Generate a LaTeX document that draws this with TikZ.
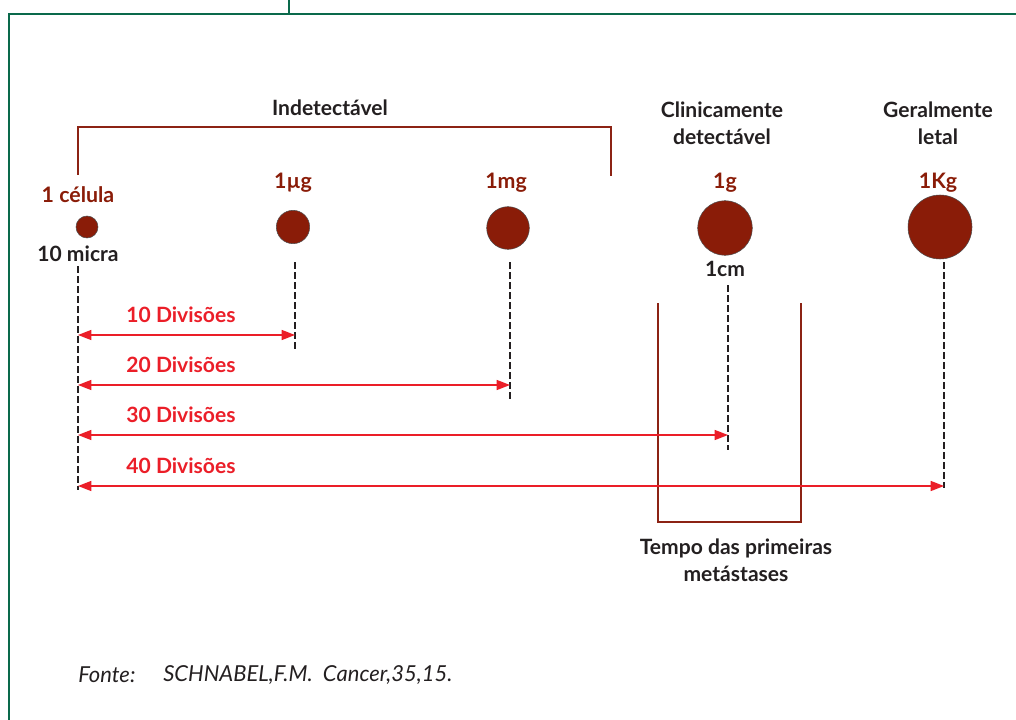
\documentclass[tikz,border=0pt]{standalone}
\usepackage{fontspec}
\setmainfont{Lato}
\usetikzlibrary{arrows.meta}
\definecolor{framegreen}{RGB}{10,105,75}
\definecolor{tumor}{RGB}{138,28,8}
\definecolor{brownline}{RGB}{140,35,20}
\definecolor{arrowred}{RGB}{235,30,40}
\definecolor{txt}{RGB}{35,31,32}
\tikzset{
  frame/.style={draw=framegreen,line width=1.5pt},
  cell/.style={circle,draw=txt!80,line width=0.4pt,fill=tumor,inner sep=0pt},
  masslabel/.style={font=\bfseries\fontsize{16}{20}\selectfont,text=tumor},
  head/.style={font=\bfseries\fontsize{15.8}{20}\selectfont,text=txt,align=center},
  sizelabel/.style={font=\bfseries\fontsize{15.8}{20}\selectfont,text=txt},
  divlabel/.style={font=\bfseries\fontsize{15.8}{20}\selectfont,text=arrowred},
  guide/.style={draw=txt,dashed,dash pattern=on 5pt off 2.5pt,line width=0.8pt},
  span/.style={draw=arrowred,line width=1.1pt,{Triangle[length=10pt,width=7.5pt]}-{Triangle[length=10pt,width=7.5pt]}},
  bracket/.style={draw=brownline,line width=1.2pt},
  src/.style={anchor=west,font=\itshape\fontsize{16.5}{20}\selectfont,text=txt,inner sep=0pt},
}
\begin{document}
\begin{tikzpicture}[x=0.75pt,y=-0.75pt]
\useasboundingbox (0,0) rectangle (1016,720);
% frame
\draw[frame] (9,721) -- (9,14) -- (1017,14);
\draw[frame] (289,-1) -- (289,14);
% indetectable bracket
\draw[bracket] (78,175) -- (78,127) -- (611,127) -- (611,176);
\node[head] (indet) at (330,108) {Indetectável};
\node[head] (clin) at (722,123) {Clinicamente\\detectável};
\node[head] (letal) at (938,123) {Geralmente\\letal};
% cells
\node[cell,minimum size=16.5pt] (c1) at (87,227) {};
\node[cell,minimum size=25pt] (c2) at (293,227) {};
\node[cell,minimum size=32pt] (c3) at (508,228) {};
\node[cell,minimum size=41pt] (c4) at (725,228) {};
\node[cell,minimum size=48pt] (c5) at (940,227) {};
% mass labels
\node[masslabel] (m1) at (78,195) {1 célula};
\node[masslabel] (m2) at (293,183) {1µg};
\node[masslabel] (m3) at (506,183) {1mg};
\node[masslabel] (m4) at (725,183) {1g};
\node[masslabel] (m5) at (938,183) {1Kg};
\node[sizelabel] (s1) at (78,254) {10 micra};
\node[sizelabel] (s4) at (725,269) {1cm};
% guide coordinates
\coordinate (g1t) at (78,266); \coordinate (g1b) at (78,490);
\coordinate (g2t) at (295,262); \coordinate (g2b) at (295,350);
\coordinate (g3t) at (510,262); \coordinate (g3b) at (510,400);
\coordinate (g4t) at (728,285); \coordinate (g4b) at (728,450);
\coordinate (g5t) at (944,262); \coordinate (g5b) at (944,488);
\draw[guide] (g1t) -- (g1b);
\draw[guide] (g2t) -- (g2b);
\draw[guide] (g3t) -- (g3b);
\draw[guide] (g4t) -- (g4b);
\draw[guide] (g5t) -- (g5b);
% metastasis box
\draw[bracket] (658,303) -- (658,522) -- (801,522) -- (801,303);
\node[head] (meta) at (736,560) {Tempo das primeiras\\metástases};
% division arrows
\coordinate (a1l) at (78,335); \coordinate (a1r) at (295,335);
\coordinate (a2l) at (78,385); \coordinate (a2r) at (510,385);
\coordinate (a3l) at (78,435); \coordinate (a3r) at (728,435);
\coordinate (a4l) at (78,486); \coordinate (a4r) at (944,486);
\draw[span] (a1l) -- (a1r);
\draw[span] (a2l) -- (a2r);
\draw[span] (a3l) -- (a3r);
\draw[span] (a4l) -- (a4r);
\node[divlabel] (d1) at (181,315) {10 Divisões};
\node[divlabel] (d2) at (181,365) {20 Divisões};
\node[divlabel] (d3) at (181,415) {30 Divisões};
\node[divlabel] (d4) at (181,466) {40 Divisões};
% source
\node[src] (f1) at (78,675) {Fonte:};
\node[src] (f2) at (163,675) {SCHNABEL,F.M.\ \ Cancer,35,15.};
\end{tikzpicture}
\end{document}
